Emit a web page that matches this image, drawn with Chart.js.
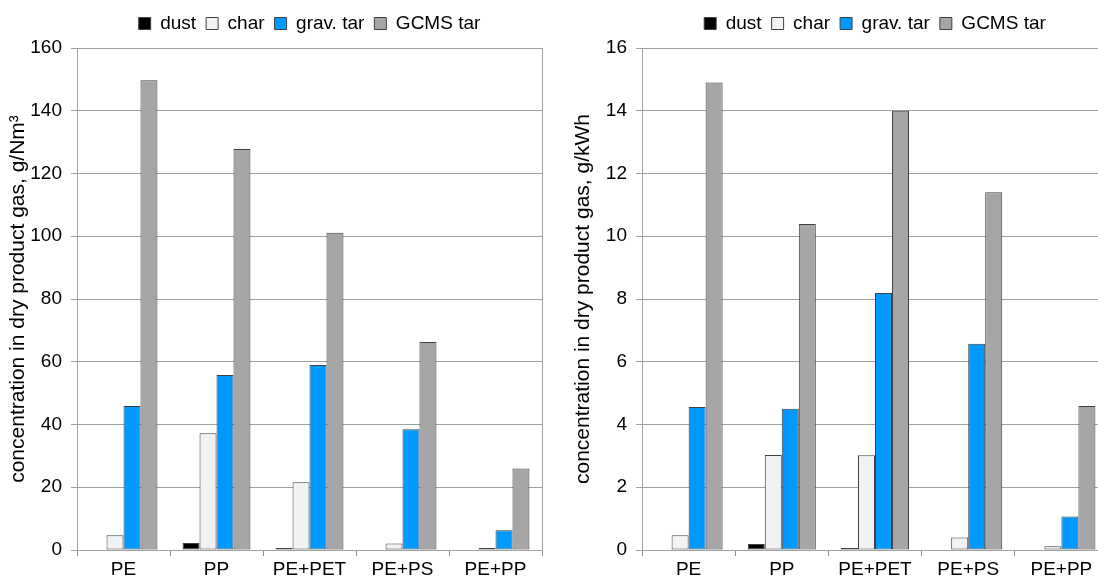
<!DOCTYPE html>
<html>
<head>
<meta charset="utf-8">
<script src="https://cdn.jsdelivr.net/npm/chart.js@4"></script>
<style>
  html, body { margin: 0; padding: 0; background: #fff; overflow: hidden; width: 1098px; height: 583px; position: relative; }
  canvas { position: absolute; top: 0; }
</style>
</head>
<body>
<canvas id="izq" width="549" height="583" style="left:0"></canvas>
<canvas id="der" width="550" height="583" style="left:565px"></canvas>
<script>
const categorias = ["PE", "PP", "PE+PET", "PE+PS", "PE+PP"];
const series = ["dust", "char", "grav. tar", "GCMS tar"];

// g/Nm³
const dustNm3 = [0, 2.2, 0.6, 0, 0];
const charNm3 = [4.7, 37.2, 21.6, 2.1, 0.6];
const gravNm3 = [45.9, 55.8, 59.0, 38.5, 6.3];
const gcmsNm3 = [149.7, 127.8, 101.1, 66.3, 26.0];

// g/kWh
const dustKWh = [0, 0.19, 0.06, 0, 0];
const charKWh = [0.47, 3.03, 3.02, 0.40, 0.12];
const gravKWh = [4.56, 4.50, 8.19, 6.57, 1.07];
const gcmsKWh = [14.9, 10.39, 14.0, 11.4, 4.59];

const ticksNm3 = [0, 20, 40, 60, 80, 100, 120, 140, 160];
const ticksKWh = [0, 2, 4, 6, 8, 10, 12, 14, 16];

const colores = ["#000000", "#f2f2f2", "#0099ff", "#a6a6a6"];

Chart.defaults.font.family = '"Liberation Sans", Arial, sans-serif';
Chart.defaults.font.size = 19;
Chart.defaults.color = "#000";

// marco gris alrededor del area de trazado, y algo mas de aire bajo la leyenda
const marco = {
  id: "marco",
  beforeLayout(chart) {
    const lg = chart.legend;
    if (lg && !lg._conAire) {
      const fitOriginal = lg.fit;
      lg.fit = function () { fitOriginal.call(this); this.height += 5; };
      lg._conAire = true;
    }
  },
  beforeDatasetsDraw(chart) {
    const a = chart.chartArea;
    const ctx = chart.ctx;
    ctx.save();
    ctx.strokeStyle = "#a0a0a0";
    ctx.lineWidth = 1;
    ctx.strokeRect(Math.round(a.left) + 0.5, Math.round(a.top) + 0.5, Math.round(a.right - a.left), Math.round(a.bottom - a.top));
    ctx.restore();
  }
};

function graficar(id, valores, ticks, titulo) {
  const datasets = series.map((s, i) => ({
    label: s,
    data: valores[i],
    backgroundColor: colores[i],
    borderColor: "#404040",
    borderWidth: 1,
    borderSkipped: false,
    categoryPercentage: 0.73,
    barPercentage: 1.0
  }));

  new Chart(document.getElementById(id), {
    type: "bar",
    data: { labels: categorias, datasets: datasets },
    options: {
      responsive: false,
      animation: false,
      layout: { padding: { top: 4, right: 7, bottom: 0, left: 0 } },
      plugins: {
        tooltip: { enabled: false },
        legend: {
          position: "top",
          fullSize: false,
          labels: { boxWidth: 12, boxHeight: 12, padding: 10, font: { size: 19 } }
        }
      },
      scales: {
        x: {
          grid: { offset: true, drawOnChartArea: false, tickLength: 6, color: "#888" },
          border: { color: "#888" },
          ticks: { padding: 4, font: { size: 19, lineHeight: 1.0 } }
        },
        y: {
          min: ticks[0],
          max: ticks[ticks.length - 1],
          afterBuildTicks: (scale) => { scale.ticks = ticks.map(v => ({ value: v })); },
          afterFit: (scale) => { scale.width = 77; },
          grid: { color: "#a0a0a0", tickLength: 6 },
          border: { color: "#888" },
          ticks: { padding: 9, font: { size: 19 } },
          title: { display: true, text: titulo, font: { size: 21 }, padding: { top: 6, bottom: 0 } }
        }
      }
    },
    plugins: [marco]
  });
}

graficar("izq", [dustNm3, charNm3, gravNm3, gcmsNm3], ticksNm3, "concentration in dry product gas, g/Nm³");
graficar("der", [dustKWh, charKWh, gravKWh, gcmsKWh], ticksKWh, "concentration in dry product gas, g/kWh");
</script>
</body>
</html>
